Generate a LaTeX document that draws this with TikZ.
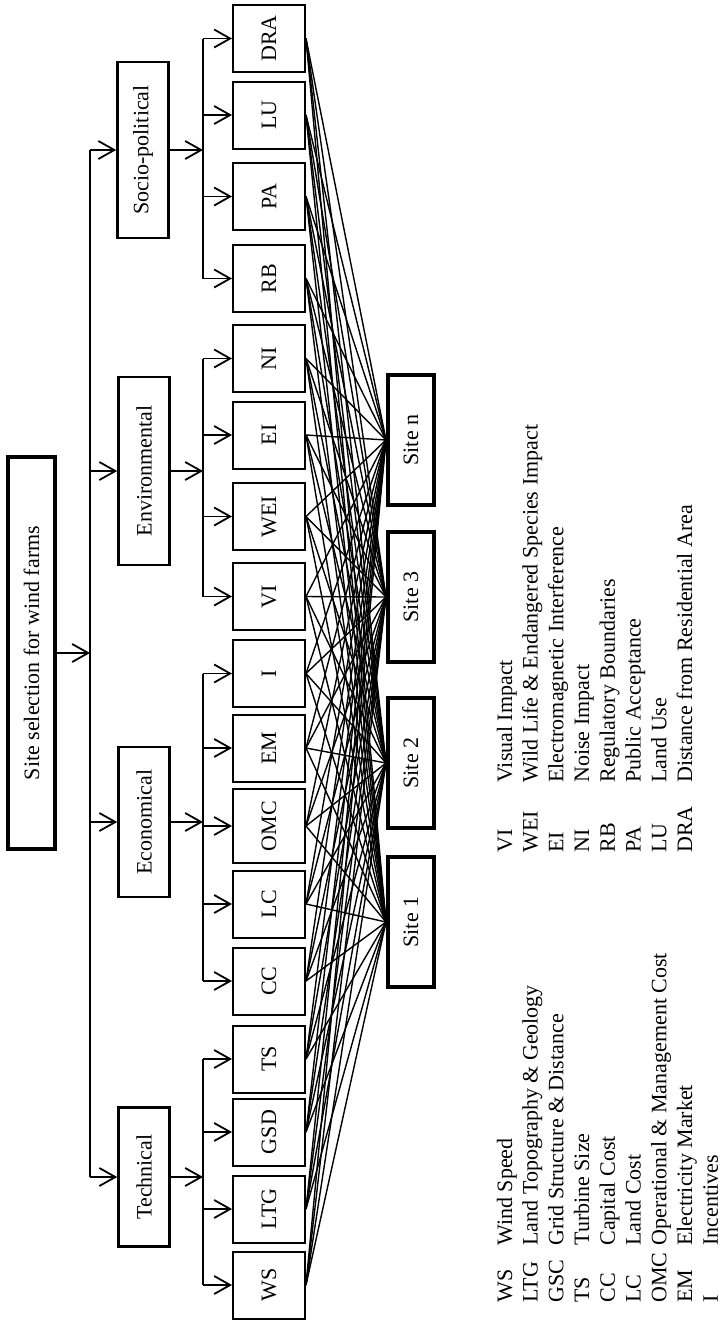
\documentclass[tikz,border=0pt]{standalone}
\usepackage{fontspec}
\setmainfont{Liberation Serif}
\usepackage{tikz}
\usetikzlibrary{arrows.meta,positioning}

\begin{document}
\begin{tikzpicture}[
    x=0.5pt, y=-0.5pt,
    font=\fontsize{11}{13}\selectfont,
    goal/.style={draw, line width=2pt, rotate=90, minimum width=196pt, minimum height=23.5pt},
    cat/.style={draw, line width=1.3pt, rotate=90, minimum height=25.5pt},
    crit/.style={draw, line width=1pt, rotate=90, minimum width=33.5pt, minimum height=36pt, inner sep=1pt},
    site/.style={draw, line width=2pt, rotate=90, minimum width=65pt, minimum height=23pt},
    arr/.style={-{Straight Barb[length=8pt,width=9pt]}, line width=0.9pt},
    bus/.style={line width=0.9pt},
    link/.style={line width=0.7pt},
    legend/.style={rotate=90, inner sep=0pt, anchor=base west},
]
\useasboundingbox (0,0) rectangle (722,1330);

% goal
\node[goal] (goal) at (31.5,653) {Site selection for wind farms};

% main criteria
\node[cat, minimum width=88pt] (socio) at (143,150) {Socio-political};
\node[cat, minimum width=94pt] (env) at (144,471) {Environmental};
\node[cat, minimum width=75pt] (eco) at (144,822) {Economical};
\node[cat, minimum width=69.5pt] (tech) at (144,1177) {Technical};

% sub-criteria
\foreach \nm/\lbl/\py in {dra/DRA/38.5, lu/LU/115, pa/PA/196.5, rb/RB/278.5,
    ni/NI/358.5, ei/EI/435, wei/WEI/516.5, vi/VI/596.5,
    i/I/673.5, em/EM/748, lc/LC/904, cc/CC/981,
    ts/TS/1059, gsd/GSD/1132, ltg/LTG/1209, ws/WS/1285}
  \node[crit] (\nm) at (269,\py) {\lbl};
\node[crit, minimum width=37pt] (omc) at (269,826) {OMC};

% alternatives
\node[site] (sn) at (411,440) {Site n};
\node[site] (s3) at (411,597) {Site 3};
\node[site] (s2) at (411,763) {Site 2};
\node[site] (s1) at (411,922) {Site 1};

% buses
\coordinate (mainbus) at (90,0);
\coordinate (subbus) at (203,0);

\draw[arr] (goal.south) -- (goal.south -| mainbus);
\draw[bus] (socio.north -| mainbus) -- (tech.north -| mainbus);
\foreach \c in {socio,env,eco,tech}{
  \draw[arr] (\c.north -| mainbus) -- (\c.north);
  \draw[arr] (\c.south) -- (\c.south -| subbus);
}

\draw[bus] (dra.north -| subbus) -- (rb.north -| subbus);
\draw[bus] (ni.north -| subbus) -- (vi.north -| subbus);
\draw[bus] (i.north -| subbus) -- (cc.north -| subbus);
\draw[bus] (ts.north -| subbus) -- (ws.north -| subbus);
\foreach \c in {dra,lu,pa,rb,ni,ei,wei,vi,i,em,omc,lc,cc,ts,gsd,ltg,ws}
  \draw[arr] (\c.north -| subbus) -- (\c.north);

% every sub-criterion to every site
\foreach \c in {dra,lu,pa,rb,ni,ei,wei,vi,i,em,omc,lc,cc,ts,gsd,ltg,ws}
  \foreach \s in {sn,s3,s2,s1}
    \draw[link] (\c.south) -- (\s.north);

% abbreviations
\renewcommand{\arraystretch}{0.99}
\node[legend] (keyA) at (512,1303) {\begin{tabular}[t]{@{}p{28.5pt}@{}l@{}}
WS & Wind Speed\\
LTG & Land Topography \& Geology\\
GSC & Grid Structure \& Distance\\
TS & Turbine Size\\
CC & Capital Cost\\
LC & Land Cost\\
OMC & Operational \& Management Cost\\
EM & Electricity Market\\
I & Incentives
\end{tabular}};
\node[legend] (keyB) at (512,853) {\begin{tabular}[t]{@{}p{35pt}@{}l@{}}
VI & Visual Impact\\
WEI & Wild Life \& Endangered Species Impact\\
EI & Electromagnetic Interference\\
NI & Noise Impact\\
RB & Regulatory Boundaries\\
PA & Public Acceptance\\
LU & Land Use\\
DRA & Distance from Residential Area
\end{tabular}};
\end{tikzpicture}
\end{document}
